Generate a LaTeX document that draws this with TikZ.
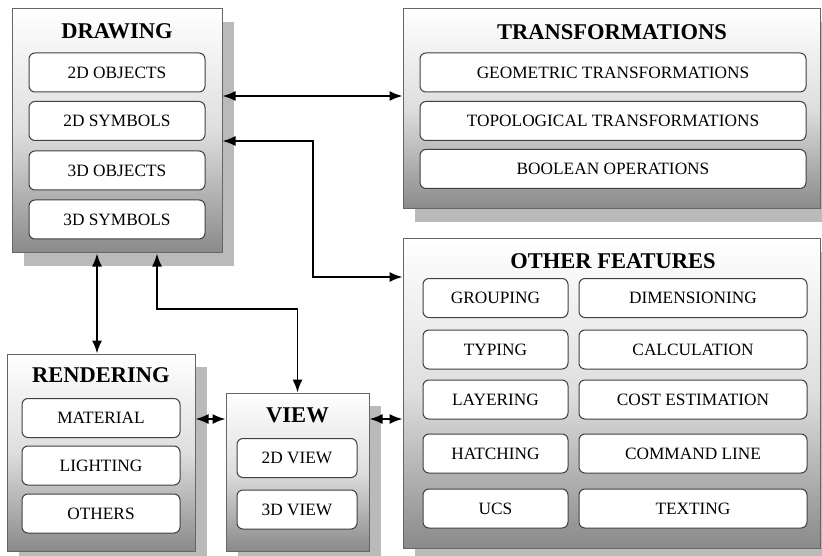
\documentclass[tikz,border=0pt]{standalone}
\usepackage{fontspec}
\setmainfont{Liberation Serif}
\usetikzlibrary{shadows,arrows.meta,calc}
\newcommand\itemfont{\fontsize{17.3}{19}\selectfont}
\newcommand\ttlfont{\fontsize{22.5}{25}\selectfont\bfseries}
\begin{document}
\begin{tikzpicture}[x=1pt,y=-1pt,
  panel/.style={draw=black!60, line width=1pt, rectangle, inner sep=0pt,
    top color=white, bottom color=black!46, middle color=black!13,
    drop shadow={shadow xshift=12pt, shadow yshift=-13pt, fill=black!27, opacity=1}},
  item/.style={draw=black!75, line width=1pt, fill=white, rounded corners=6pt,
    inner sep=0pt, font=\itemfont, text depth=0pt},
  ttl/.style={font=\ttlfont, inner sep=0pt, text depth=0pt},
  arr/.style={{Latex[length=13pt,width=10pt]}-{Latex[length=13pt,width=10pt]}, line width=1.7pt}
]
\useasboundingbox (0,0) rectangle (822,556);

% ---- DRAWING
\node[panel, minimum width=210pt, minimum height=244pt] (drawing) at (117,131) {};
\node[ttl] (drawingT) at (117,31) {DRAWING};
\begin{scope}[every node/.style={item, minimum width=176pt, minimum height=39pt}]
\node (d1) at (117,72.5) {2D OBJECTS};
\node (d2) at (117,121) {2D SYMBOLS};
\node (d3) at (117,170.5) {3D OBJECTS};
\node (d4) at (117,219.5) {3D SYMBOLS};
\end{scope}

% ---- TRANSFORMATIONS
\node[panel, minimum width=417pt, minimum height=200pt] (trans) at (611.5,109) {};
\node[ttl] (transT) at (612,32) {TRANSFORMATIONS};
\begin{scope}[every node/.style={item, minimum width=386pt, minimum height=39pt}]
\node (t1) at (613,72.5) {GEOMETRIC TRANSFORMATIONS};
\node (t2) at (613,121) {TOPOLOGICAL TRANSFORMATIONS};
\node (t3) at (613,169) {BOOLEAN OPERATIONS};
\end{scope}

% ---- OTHER FEATURES
\node[panel, minimum width=417pt, minimum height=309pt] (other) at (611.5,393.5) {};
\node[ttl] (otherT) at (613,261) {OTHER FEATURES};
\begin{scope}[every node/.style={item, minimum width=145pt, minimum height=39pt}]
\node (o1) at (495.5,298) {GROUPING};
\node (o2) at (495.5,349.5) {TYPING};
\node (o3) at (495.5,399.5) {LAYERING};
\node (o4) at (495.5,453.5) {HATCHING};
\node (o5) at (495.5,508.5) {UCS};
\end{scope}
\begin{scope}[every node/.style={item, minimum width=228pt, minimum height=39pt}]
\node (p1) at (693,298) {DIMENSIONING};
\node (p2) at (693,349.5) {CALCULATION};
\node (p3) at (693,399.5) {COST ESTIMATION};
\node (p4) at (693,453.5) {COMMAND LINE};
\node (p5) at (693,508.5) {TEXTING};
\end{scope}

% ---- RENDERING
\node[panel, minimum width=188pt, minimum height=197pt] (rend) at (101,452.5) {};
\node[ttl] (rendT) at (101,375) {RENDERING};
\begin{scope}[every node/.style={item, minimum width=158pt, minimum height=39pt}]
\node (r1) at (101,418) {MATERIAL};
\node (r2) at (101,465.5) {LIGHTING};
\node (r3) at (101,513.5) {OTHERS};
\end{scope}

% ---- VIEW
\node[panel, minimum width=143pt, minimum height=158pt] (view) at (297.5,472) {};
\node[ttl] (viewT) at (297.5,415) {VIEW};
\begin{scope}[every node/.style={item, minimum width=120pt, minimum height=39pt}]
\node (v1) at (297,458) {2D VIEW};
\node (v2) at (297,509.5) {3D VIEW};
\end{scope}

% ---- connectors
\coordinate (k1) at (313,277);
\coordinate (k2) at (297.5,309);
\draw[arr] ([yshift=35pt]drawing.east) -- ([yshift=35pt]drawing.east -| trans.west);
\draw[arr] ([yshift=-10pt]drawing.east) -| (k1) -- (k1 -| other.west);
\draw[arr] ([xshift=-20pt]drawing.south) -- ([xshift=-20pt]drawing.south |- rend.north);
\draw[arr] ([xshift=40pt]drawing.south) |- (k2) -- (view.north);
\draw[arr] ([yshift=33.5pt]rend.east) -- ([yshift=33.5pt]rend.east -| view.west);
\draw[arr] ([yshift=53pt]view.east) -- ([yshift=53pt]view.east -| other.west);
\end{tikzpicture}
\end{document}
